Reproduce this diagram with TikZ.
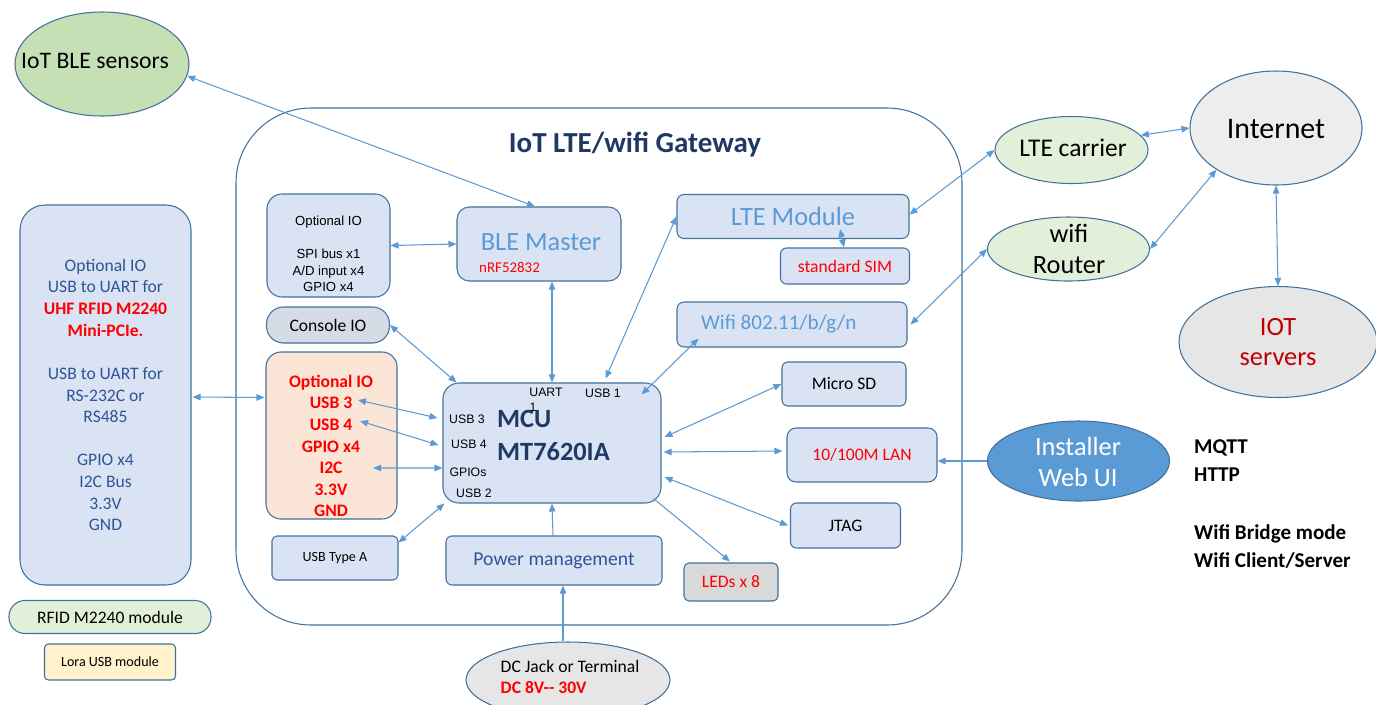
\documentclass[tikz,border=0pt]{standalone}
\usepackage{fontspec}
\setmainfont{Carlito}
\newfontfamily\arialfont{Liberation Sans}
\usepackage{tikz}
\usetikzlibrary{shapes.geometric,arrows.meta,positioning,calc}
\definecolor{lineBlue}{HTML}{5B9BD5}
\definecolor{edgeBlue}{HTML}{41719C}
\definecolor{boxFill}{HTML}{DAE3F3}
\definecolor{navyText}{HTML}{1F3864}
\definecolor{panelText}{HTML}{2F5597}
\definecolor{sensorGreen}{HTML}{C5E0B4}
\definecolor{paleGreen}{HTML}{E2F0D9}
\definecolor{cloudGray}{HTML}{EDEDED}
\definecolor{jackGray}{HTML}{E7E6E6}
\definecolor{consoleFill}{HTML}{D6DCE5}
\definecolor{ledGray}{HTML}{D9D9D9}
\definecolor{peach}{HTML}{FBE5D6}
\definecolor{cream}{HTML}{FFF2CC}
\definecolor{alertRed}{HTML}{FF0000}
\definecolor{darkRed}{HTML}{C00000}

\begin{document}
\begin{tikzpicture}[x=0.02cm,y=-0.02cm,
    sz/.style 2 args={minimum width=#1*0.02cm,minimum height=#2*0.02cm,inner sep=0pt},
    blk/.style={draw=edgeBlue,line width=0.6pt,fill=boxFill,rounded corners=#1},
    blk/.default=0.12cm,
    oval/.style={ellipse,draw=edgeBlue,line width=0.6pt,inner sep=0pt},
    pinlbl/.style={font=\arialfont\fontsize{7}{8}\selectfont,inner sep=0pt},
    link/.style={line width=0.6pt,lineBlue,{Triangle[length=1.6mm,width=1.3mm]}-{Triangle[length=1.6mm,width=1.3mm]}},
    oneway/.style={line width=0.6pt,lineBlue,-{Triangle[length=1.6mm,width=1.3mm]}}]
  \fill[white] (0,0) rectangle (1376,704);
  \useasboundingbox (0,0) rectangle (1376,704);

  \node[blk=1.5cm,fill=white,sz={726}{517}] (gateway) at (599,366.5) {};
  \node[font=\fontsize{16.5}{19}\selectfont\bfseries,text=navyText] (title) at (635,145) {IoT LTE/wifi Gateway};

  \node[oval,fill=sensorGreen,sz={174}{104}] (bleSensors) at (102,64) {};
  \node[font=\fontsize{13.5}{16}\selectfont] (bleSensorsTxt) at (95,61) {IoT BLE sensors};

  \node[blk=0.5cm,sz={171}{380},align=center,text=panelText,font=\fontsize{10}{12.3}\selectfont] (leftPanel) at (105.5,395)
    {Optional IO\\USB to UART for\\\textcolor{alertRed}{\bfseries UHF RFID M2240}\\\textcolor{alertRed}{\bfseries Mini-PCIe.}\\[12.3pt]USB to UART for\\RS-232C or\\RS485\\[12.3pt]GPIO x4\\I2C Bus\\3.3V\\GND};
  \node[blk=0.32cm,fill=paleGreen,sz={202}{33},font=\fontsize{10}{12}\selectfont] (rfidMod) at (110,617) {RFID M2240 module};
  \node[blk=0.08cm,fill=cream,sz={131}{36},font=\fontsize{8}{10}\selectfont] (loraMod) at (110,662) {Lora USB module};

  \node[blk=0.3cm,sz={123}{103}] (spiIO) at (328.5,245.5) {};
  \node[align=center,font=\arialfont\fontsize{7.5}{9.4}\selectfont] (spiTxt) at (328.5,254) {Optional IO\\[9.4pt]SPI bus x1\\A/D input x4\\GPIO x4};
  \node[blk=0.34cm,fill=consoleFill,sz={123}{36},font=\fontsize{10}{12}\selectfont] (consoleIO) at (328,325) {Console IO};
  \node[blk=0.3cm,fill=peach,sz={131}{167}] (optIO) at (331.5,435.5) {};
  \node[align=center,text=alertRed,font=\fontsize{10}{12.3}\selectfont\bfseries] (optTxt) at (331,446) {Optional IO\\USB 3\\USB 4\\GPIO x4\\I2C\\3.3V\\GND};
  \node[blk=0.1cm,sz={126}{44},font=\fontsize{8}{10}\selectfont] (usbA) at (335,558) {USB Type A};

  \node[blk=0.25cm,sz={164}{74}] (bleMaster) at (539,244) {};
  \node[text=lineBlue,font=\fontsize{15}{18}\selectfont] (bleTxt) at (541,242) {BLE Master};
  \node[anchor=west,text=alertRed,font=\fontsize{8.5}{10}\selectfont] (nrfTxt) at (473,267) {nRF52832};

  \node[blk=0.14cm,sz={232}{44},text=lineBlue,font=\fontsize{15}{18}\selectfont] (lteMod) at (793,216.5) {LTE Module};
  \node[blk=0.12cm,sz={129}{36},text=alertRed,font=\fontsize{10}{12}\selectfont] (sim) at (845,266) {standard SIM};
  \node[blk=0.14cm,sz={230}{45}] (wifiMod) at (792,324.5) {};
  \node[anchor=west,text=lineBlue,font=\fontsize{12}{14}\selectfont] (wifiTxt) at (695,324) {Wifi 802.11/b/g/n};
  \node[blk=0.12cm,sz={124}{44},font=\fontsize{10}{12}\selectfont] (microSD) at (844,384) {Micro SD};

  \node[blk=0.32cm,sz={218}{120}] (mcu) at (552,443) {};
  \node[anchor=west,text=navyText,font=\fontsize{15}{18}\selectfont\bfseries] (mcuName) at (491,419) {MCU};
  \node[anchor=west,text=navyText,font=\fontsize{15}{18}\selectfont\bfseries] (mcuChip) at (491,452) {MT7620IA};
  \foreach \nm/\x/\y/\t in {mcuUart/546/392/UART, mcuUartNo/533/407/1, mcuUsb1/603/393/USB 1,
      mcuUsb3/467/419/USB 3, mcuUsb4/469/444/USB 4, mcuGpio/468/472/GPIOs, mcuUsb2/474/493/USB 2}
    \node[pinlbl] (\nm) at (\x,\y) {\t};

  \node[blk=0.18cm,sz={150}{54},text=alertRed,font=\fontsize{10}{12}\selectfont] (lan) at (862,455) {10/100M LAN};
  \node[blk=0.12cm,sz={110}{45},font=\fontsize{10}{12}\selectfont] (jtag) at (845.5,525.5) {JTAG};
  \node[blk=0.1cm,fill=ledGray,sz={94}{38},text=alertRed,font=\fontsize{10}{12}\selectfont] (leds) at (731,582) {LEDs x 8};
  \node[blk=0.12cm,sz={216}{49},text=panelText,font=\fontsize{11.2}{14}\selectfont] (power) at (554,560.5) {Power management};

  \node[oval,fill=jackGray,sz={204}{76}] (dcJack) at (568,680) {};
  \node[align=left,font=\fontsize{10}{12}\selectfont] (dcJackTxt) at (570,677) {DC Jack or Terminal\\\textcolor{alertRed}{\bfseries DC 8V{-}{-} 30V}};

  \node[oval,fill=paleGreen,sz={153}{67}] (lteCarrier) at (1071.5,150) {};
  \node[font=\fontsize{14.5}{17}\selectfont] (lteCarrierTxt) at (1073,148) {LTE carrier};
  \node[oval,fill=paleGreen,sz={162}{64}] (wifiRouter) at (1068.5,249) {};
  \node[align=center,font=\fontsize{15}{18}\selectfont] (wifiRouterTxt) at (1069,249) {wifi\\Router};
  \node[oval,fill=cloudGray,sz={172}{114}] (internet) at (1276,128) {};
  \node[font=\fontsize{17}{20}\selectfont] (internetTxt) at (1276,129) {Internet};
  \node[oval,fill=jackGray,sz={198}{111}] (iotServers) at (1278,342) {};
  \node[align=center,text=darkRed,font=\fontsize{15}{17.6}\selectfont] (iotServersTxt) at (1278,342) {IOT\\servers};
  \node[oval,fill=lineBlue,sz={182}{80}] (installer) at (1078.5,461) {};
  \node[align=center,text=white,font=\fontsize{15}{17.6}\selectfont] (installerTxt) at (1078,462) {Installer\\Web UI};
  \node[anchor=west,align=left,font=\fontsize{12}{16.3}\selectfont\bfseries] (protocols) at (1188,504) {MQTT\\HTTP\\[16.3pt]Wifi Bridge mode\\Wifi Client/Server};

  \draw[link] (bleSensors.-8) -- ($(bleMaster.north)+(-4,0)$);
  \draw[link] (spiIO.east) -- (bleMaster.west);
  \draw[link] ($(bleMaster.south)+(13,0)$) -- (mcu.north);
  \draw[link] (consoleIO.east) -- ($(mcu.north west)+(14,0)$);
  \draw[link] ($(mcu.north east)+(-56,-4)$) -- (lteMod.west);
  \draw[link] ($(mcu.north east)+(-20,12)$) -- ($(wifiMod.south west)+(22,-9)$);
  \draw[link] ($(mcu.east)+(3,-6)$) -- (microSD.west);
  \draw[link] ($(mcu.east)+(2,9)$) -- ($(lan.west)+(-4,-4)$);
  \draw[link] ($(mcu.east)+(3,34)$) -- ($(jtag.west)+(-2,0)$);
  \draw[oneway] ($(mcu.south east)+(-8,-5)$) -- ($(leds.north)+(-1,-1)$);
  \draw[link] ($(optIO.center)+(26.5,-35.5)$) -- ($(mcu.west)+(-5,-25)$);
  \draw[link] ($(optIO.center)+(28.5,-14.5)$) -- ($(mcu.west)+(-4,2)$);
  \draw[link] ($(optIO.center)+(41.5,32.5)$) -- ($(mcu.west)+(0,25)$);
  \draw[link] ($(usbA.north east)+(0,7)$) -- ($(mcu.south west)+(2,0)$);
  \draw[oneway] ($(power.north)+(-1,0)$) -- (mcu.south);
  \draw[oneway] ($(dcJack.north)+(-5,0)$) -- ($(power.south)+(9,0)$);
  \draw[link] ($(sim.north)+(-1,0)$) -- ($(lteMod.south)+(47,-10)$);
  \draw[link] ($(lteMod.east)+(0,-2)$) -- (lteCarrier.west);
  \draw[link] ($(wifiMod.east)+(3,0)$) -- (wifiRouter.west);
  \draw[link] (lteCarrier.12) -- (internet.west);
  \draw[link] (wifiRouter.east) -- (internet.215);
  \draw[link] (internet.south) -- (iotServers.north);
  \draw[oneway] (installer.west) -- ($(lan.east)+(0,6)$);
  \draw[link] ($(leftPanel.east)+(1,2)$) -- ($(optIO.west)+(-1,-38)$);
\end{tikzpicture}
\end{document}
